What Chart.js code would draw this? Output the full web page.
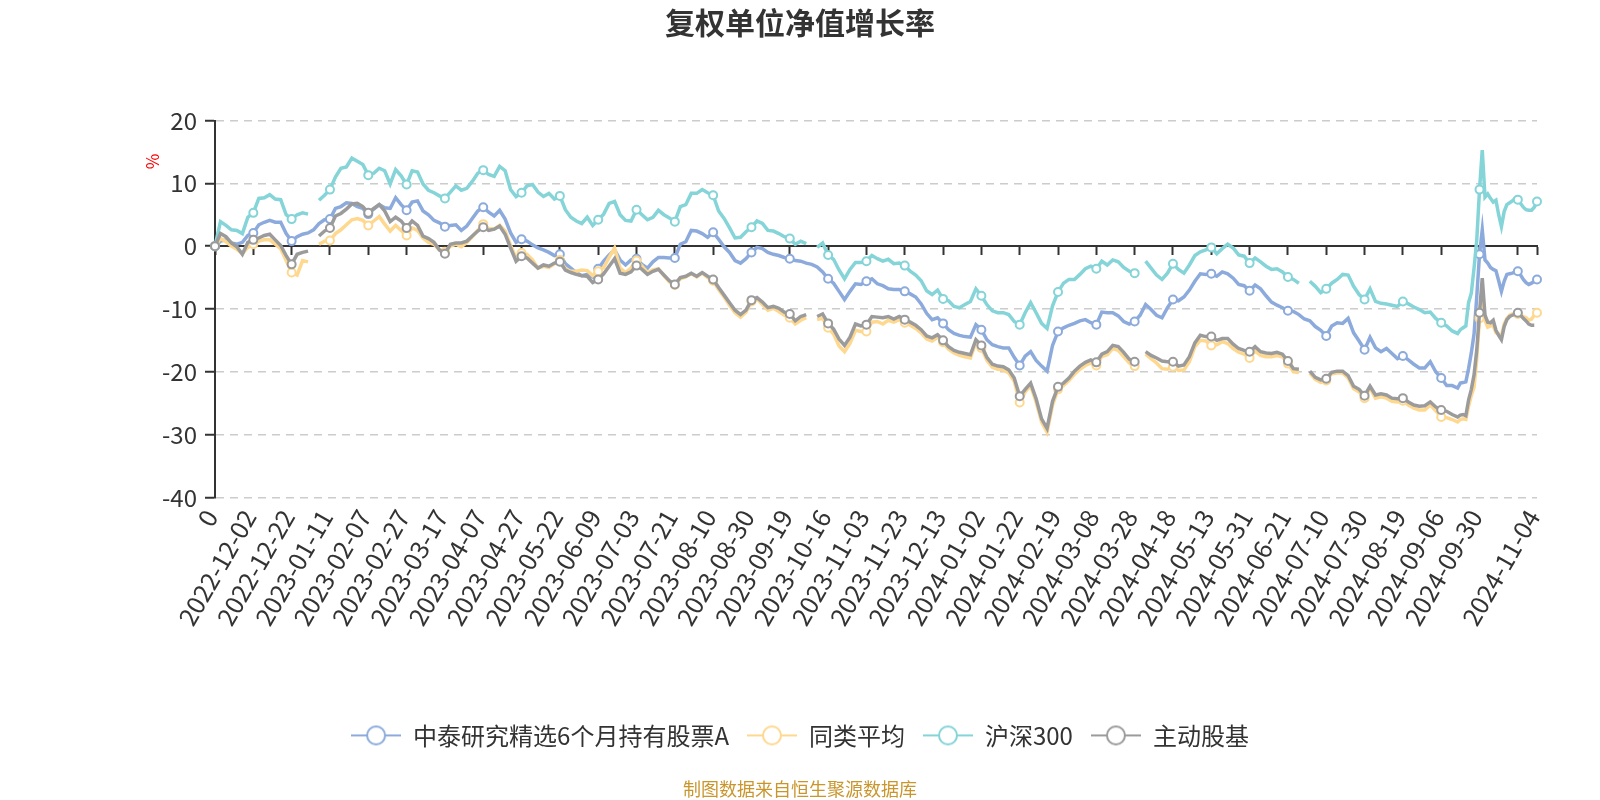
<!DOCTYPE html>
<html>
<head>
<meta charset="utf-8">
<script src="https://cdn.jsdelivr.net/npm/chart.js@4.4.1/dist/chart.umd.min.js"></script>
<style>
  html, body { margin: 0; padding: 0; background: #fff; }
</style>
</head>
<body>
<canvas id="chart" width="1600" height="800"></canvas>
<script>
const FONT = '"Noto Sans CJK SC", "Noto Sans", sans-serif';

const seriesNames = ['中泰研究精选6个月持有股票A', '同类平均', '沪深300', '主动股基'];
const seriesColors = ['#8cabdc', '#ffd88f', '#84d4d8', '#9b9b9b'];

// one label every 14 trading days, plus the last day
const tickLabels = ['0', '2022-12-02', '2022-12-22', '2023-01-11', '2023-02-07', '2023-02-27',
  '2023-03-17', '2023-04-07', '2023-04-27', '2023-05-22', '2023-06-09', '2023-07-03',
  '2023-07-21', '2023-08-10', '2023-08-30', '2023-09-19', '2023-10-16', '2023-11-03',
  '2023-11-23', '2023-12-13', '2024-01-02', '2024-01-22', '2024-02-19', '2024-03-08',
  '2024-03-28', '2024-04-18', '2024-05-13', '2024-05-31', '2024-06-21', '2024-07-10',
  '2024-07-30', '2024-08-19', '2024-09-06', '2024-09-30'];
const lastLabel = '2024-11-04';
const tickStep = 14;
const lastDay = 483;

// sampled trading days: every 2nd day up to 454, then every day to the end
const days = [];
for (let d = 0; d <= 454; d += 2) days.push(d);
for (let d = 455; d <= lastDay; d++) days.push(d);

// 复权单位净值增长率 (%)
const fundValues = [
  0, 0.8, 1.0, 0.5, 0.3, 0.6, 1.7, 2.1, 3.4, 3.8,
  4.1, 3.8, 3.8, 2.0, 0.8, 1.5, 1.9, 2.1, 2.6, 3.6,
  4.2, 4.3, 6.0, 6.3, 6.9, 6.8, 6.3, 6.0, 5.1, 5.9,
  6.6, 6.1, 6.0, 7.7, 6.6, 5.7, 7.0, 7.2, 5.6, 5.0,
  4.1, 3.7, 3.1, 3.3, 3.4, 2.5, 3.2, 4.4, 5.6, 6.2,
  5.4, 4.8, 5.7, 4.3, 2.1, 0.6, 1.1, 0.8, 0.2, -0.3,
  -0.6, -1.0, -1.5, -1.3, -2.8, -3.5, -4.2, -4.7, -4.5, -4.9,
  -3.6, -2.4, -1.4, -0.6, -2.2, -3.0, -2.2, -2.0, -2.9, -3.5,
  -2.5, -1.8, -1.8, -1.9, -1.9, 0.3, 0.7, 2.5, 2.4, 2.0,
  1.4, 2.2, 1.1, -0.1, -1.0, -2.3, -2.7, -2.0, -1.0, -0.2,
  -0.4, -1.0, -1.3, -1.5, -1.8, -2.0, -2.3, -2.4, -2.7, -2.9,
  -3.3, -4.1, -5.2, -5.9, -7.2, -8.5, -7.2, -6.0, -6.1, -5.6,
  -5.2, -6.0, -6.3, -6.8, -6.9, -6.9, -7.2, -7.6, -8.1, -9.2,
  -10.7, -11.7, -11.4, -12.3, -13.3, -13.9, -14.2, -14.4, -14.5, -12.5,
  -13.3, -14.9, -15.7, -16.0, -16.2, -16.2, -17.7, -19.0, -17.5, -16.8,
  -18.2, -19.1, -19.9, -15.8, -13.6, -13.0, -12.6, -12.3, -11.9, -11.7,
  -12.2, -12.5, -10.5, -10.6, -10.6, -11.1, -12.0, -12.4, -12.0, -11.0,
  -9.3, -10.1, -11.0, -11.4, -9.8, -8.5, -8.7, -8.1, -7.0, -5.6,
  -4.4, -4.5, -4.4, -4.8, -4.1, -4.4, -5.1, -6.1, -6.3, -7.1,
  -6.2, -6.8, -7.9, -8.9, -9.4, -9.8, -10.3, -10.4, -10.9, -11.6,
  -11.9, -12.8, -13.4, -14.3, -12.7, -12.2, -12.3, -11.5, -13.8, -15.1,
  -16.5, -14.5, -16.2, -16.8, -16.3, -17.1, -17.9, -17.5, -18.1, -18.8,
  -19.4, -19.4, -18.4, -20.0, -21.0, -22.2, -22.2, -22.6,
  -21.8, -21.7, -21.6, -19.5, -17.0, -14.0, -8.0, -1.3, 2.6, -2.2,
  -2.7, -3.4, -3.7, -3.9, -5.5, -7.2, -5.6, -4.5, -4.4, -4.3,
  -4.1, -4.0, -4.6, -5.3, -5.8, -6.1, -5.9, -5.6, -5.3
];

const peerValues = [
  0, 1.2, 0.7, 0.0, -0.5, -1.2, -0.2, 0.3, 0.8, 1.0,
  1.0, 0.3, -0.4, -2.3, -4.2, -4.6, -2.3, -2.5, null, 0.3,
  0.8, 0.9, 2.0, 2.6, 3.4, 4.2, 4.4, 4.1, 3.3, 4.0,
  4.7, 3.5, 2.4, 3.3, 2.5, 1.7, 2.9, 2.5, 1.3, 0.6,
  0.3, -0.6, -0.9, 0.0, 0.3, -0.1, 0.6, 1.5, 2.5, 3.5,
  2.8, 2.7, 3.3, 2.4, 0.1, -1.9, -1.1, -1.3, -2.2, -3.5,
  -3.2, -3.4, -2.8, -2.2, -3.6, -4.0, -4.0, -3.8, -3.9, -4.7,
  -4.0, -3.4, -1.8, -0.3, -3.5, -4.2, -3.5, -2.3, -3.2, -4.2,
  -3.8, -3.6, -4.7, -5.7, -6.2, -5.2, -4.9, -4.4, -4.9, -4.3,
  -5.0, -5.5, -6.9, -8.1, -9.4, -10.6, -11.3, -10.5, -8.8, -8.4,
  -9.3, -10.2, -9.9, -10.4, -11.0, -11.4, -12.4, -11.8, -11.4, null,
  -11.7, -11.5, -13.0, -14.0, -15.9, -16.8, -15.5, -13.4, -13.6, -13.6,
  -12.1, -12.0, -12.4, -11.8, -12.1, -11.7, -12.2, -12.6, -13.1, -13.8,
  -14.8, -15.1, -14.5, -15.3, -16.4, -17.0, -17.4, -17.6, -17.8, -15.3,
  -16.2, -18.2, -19.3, -19.6, -19.7, -20.2, -21.5, -24.9, -23.2, -22.2,
  -24.8, -28.0, -29.6, -25.3, -22.8, -22.2, -21.4, -20.4, -19.6, -19.0,
  -18.6, -19.0, -17.6, -17.3, -16.3, -16.6, -17.6, -18.6, -19.1, null,
  -17.2, -17.9, -18.6, -19.5, -19.6, -19.2, -19.8, -19.7, -18.4, -16.0,
  -15.0, -15.1, -15.8, -15.7, -15.2, -15.5, -16.3, -16.9, -17.2, -17.8,
  -16.7, -17.4, -17.6, -17.6, -17.4, -17.6, -18.7, -20.0, -20.1, null,
  -20.2, -21.2, -21.7, -21.4, -20.3, -20.2, -20.2, -21.0, -22.7, -23.2,
  -24.2, -22.6, -24.2, -24.0, -24.2, -24.7, -24.8, -24.6, -25.3, -25.8,
  -26.1, -26.1, -25.3, -26.2, -27.2, -27.3, -27.6, -28.0,
  -27.6, -27.5, -27.6, -25.5, -23.8, -22.5, -18.0, -11.5, -7.0, -11.8,
  -12.9, -12.7, -12.6, -13.8, -14.0, -14.3, -12.4, -11.5, -11.0, -10.8,
  -10.8, -10.8, -11.0, -11.2, -11.4, -11.8, -11.6, -11.0, -10.6
];

const hs300Values = [
  0, 3.9, 3.3, 2.6, 2.5, 2.0, 4.6, 5.3, 7.6, 7.7,
  8.2, 7.5, 7.4, 5.0, 4.3, 5.0, 5.3, 5.1, null, 7.3,
  8.1, 9.0, 11.0, 12.4, 12.6, 14.0, 13.5, 13.0, 11.3, 11.6,
  12.4, 12.0, 9.9, 12.2, 11.2, 9.8, 12.0, 11.8, 9.9, 8.9,
  8.5, 8.0, 7.6, 8.6, 9.6, 8.9, 9.2, 10.3, 11.6, 12.1,
  11.4, 11.1, 12.7, 12.0, 9.0, 7.9, 8.5, 9.6, 9.8, 8.6,
  7.9, 8.4, 7.5, 8.0, 5.8, 4.6, 4.0, 3.6, 4.6, 3.3,
  4.2, 5.1, 6.8, 7.1, 5.0, 4.1, 4.0, 5.8, 5.0, 4.2,
  4.6, 5.7, 5.0, 4.5, 3.9, 6.3, 6.6, 8.4, 8.4, 9.0,
  8.5, 8.1, 5.6, 4.4, 2.9, 1.3, 1.4, 2.3, 3.0, 4.0,
  3.6, 2.5, 2.4, 2.0, 1.5, 1.2, 0.3, 0.8, 0.4, null,
  -0.2, 0.5, -1.4, -2.1, -3.8, -5.2, -3.7, -2.6, -2.6, -2.4,
  -1.5, -2.0, -2.4, -2.1, -2.8, -2.7, -3.1, -4.0, -4.6, -5.5,
  -7.1, -7.7, -7.0, -8.4, -8.7, -9.6, -9.8, -9.3, -8.8, -6.8,
  -7.9, -9.3, -10.3, -10.6, -10.6, -10.9, -12.0, -12.5, -10.6, -9.0,
  -10.6, -12.3, -13.1, -9.5, -7.3, -5.9, -5.3, -5.3, -4.5, -3.6,
  -3.2, -3.6, -2.4, -3.0, -2.2, -2.5, -3.4, -4.0, -4.3, null,
  -2.4, -3.5, -4.6, -5.3, -4.3, -2.8, -3.7, -4.3, -3.0, -1.5,
  -0.9, -0.6, -0.2, -1.2, -0.4, 0.3, -0.3, -1.4, -1.6, -2.7,
  -1.9, -2.5, -3.2, -3.7, -3.6, -4.1, -4.9, -5.3, -5.9, null,
  -5.6, -6.4, -7.4, -6.8, -5.9, -5.3, -4.5, -4.6, -6.4, -7.7,
  -8.5, -6.8, -8.8, -9.1, -9.2, -9.4, -9.6, -8.8, -9.2, -9.7,
  -10.1, -10.6, -10.5, -11.5, -12.2, -12.7, -13.5, -13.9,
  -13.3, -13.0, -12.7, -9.0, -7.5, -3.5, 1.0, 9.0, 15.3, 7.8,
  8.3, 7.6, 7.0, 7.3, 5.0, 3.1, 5.5, 6.6, 6.9, 7.2,
  7.6, 7.4, 6.8, 6.2, 5.8, 5.7, 5.7, 6.2, 7.1
];

const activeValues = [
  0, 2.0, 1.5, 0.5, -0.1, -1.3, 0.6, 1.0, 1.3, 1.7,
  1.9, 1.0, 0.1, -1.5, -2.9, -1.3, -1.0, -0.8, null, 1.6,
  2.4, 2.9, 4.8, 5.2, 5.9, 6.7, 6.8, 6.3, 5.3, 6.0,
  6.6, 5.6, 3.9, 4.6, 4.0, 2.9, 4.0, 3.3, 1.6, 1.2,
  0.6, -0.6, -1.2, 0.3, 0.5, 0.5, 0.8, 1.6, 2.4, 3.0,
  2.5, 2.7, 3.2, 1.9, -0.3, -2.4, -1.6, -1.9, -2.7, -3.5,
  -3.0, -3.2, -2.7, -2.5, -3.8, -4.2, -4.5, -4.7, -4.8, -5.8,
  -5.3, -4.4, -3.2, -2.0, -4.3, -4.5, -4.1, -3.1, -3.7, -4.5,
  -4.0, -3.7, -4.6, -5.5, -6.1, -5.0, -4.8, -4.3, -4.8, -4.2,
  -4.8, -5.3, -6.6, -7.8, -9.0, -10.2, -10.9, -10.2, -8.6, -8.2,
  -8.9, -9.8, -9.6, -9.9, -10.5, -10.8, -11.9, -11.2, -10.9, null,
  -11.2, -10.8, -12.3, -13.2, -14.8, -15.8, -14.5, -12.4, -12.7, -12.5,
  -11.2, -11.3, -11.4, -11.2, -11.6, -11.2, -11.7, -12.1, -12.6, -13.3,
  -14.3, -14.6, -14.1, -15.0, -16.0, -16.6, -16.9, -17.1, -17.3, -14.9,
  -15.8, -17.7, -18.8, -19.1, -19.2, -19.7, -21.0, -23.9, -22.8, -21.8,
  -24.3, -27.5, -29.0, -24.7, -22.4, -21.8, -21.0, -19.9, -19.1, -18.5,
  -18.1, -18.5, -17.2, -16.8, -15.8, -16.0, -16.9, -18.0, -18.4, null,
  -16.8, -17.4, -17.8, -18.3, -18.4, -18.4, -19.1, -18.9, -17.6, -15.4,
  -14.2, -14.4, -14.4, -15.0, -14.7, -14.7, -15.6, -16.3, -16.6, -16.8,
  -16.0, -16.8, -17.0, -17.1, -16.9, -17.2, -18.3, -19.5, -19.6, null,
  -19.9, -20.9, -21.3, -21.1, -20.1, -19.9, -19.9, -20.6, -22.3, -22.8,
  -23.8, -22.3, -23.7, -23.5, -23.7, -24.2, -24.3, -24.2, -24.8, -25.3,
  -25.5, -25.4, -24.8, -25.6, -26.1, -26.3, -26.8, -27.2,
  -26.9, -26.8, -27.0, -24.5, -22.8, -20.5, -16.5, -10.6, -5.1, -11.0,
  -12.1, -12.2, -11.8, -13.4, -14.2, -14.9, -12.8, -11.7, -11.2, -11.0,
  -10.8, -10.6, -11.0, -11.5, -11.9, -12.4, -12.6, -12.6, null
];

const seriesValues = [fundValues, peerValues, hs300Values, activeValues];
seriesValues.forEach((vals, i) => {
  if (vals.length !== days.length) console.error(seriesNames[i], vals.length, days.length);
});

// tick days shared by the label axis and the zero line
const tickDays = tickLabels.map((_, k) => k * tickStep);
tickDays.push(tickDays[tickDays.length - 1] + tickStep, lastDay);

function labelForDay(d) {
  if (d === lastDay) return lastLabel;
  const k = d / tickStep;
  return Number.isInteger(k) && k < tickLabels.length ? tickLabels[k] : '';
}

function isMarkerDay(d) {
  return d === lastDay || d % tickStep === 0;
}

function setTicks(scale) {
  scale.ticks = tickDays.map(v => ({ value: v }));
}

// legend icon: short line with a hollow circle
function legendIcon(color) {
  const c = document.createElement('canvas');
  c.width = 50;
  c.height = 24;
  const g = c.getContext('2d');
  g.strokeStyle = color;
  g.lineWidth = 2;
  g.beginPath();
  g.moveTo(0, 12);
  g.lineTo(50, 12);
  g.stroke();
  g.beginPath();
  g.arc(25, 12, 9, 0, Math.PI * 2);
  g.fillStyle = '#fff';
  g.fill();
  g.stroke();
  return c;
}
const legendIcons = seriesColors.map(legendIcon);

// ECharts draws later series on top; lower order is drawn last in Chart.js
const drawOrder = [4, 3, 2, 1];

const unitLabel = {
  id: 'unitLabel',
  afterDraw(chart) {
    const { ctx, chartArea, scales } = chart;
    ctx.save();
    ctx.translate(chartArea.left - 62, scales.y.getPixelForValue(13.5));
    ctx.rotate(-Math.PI / 2);
    ctx.fillStyle = '#ff0000';
    ctx.font = '17px ' + FONT;
    ctx.textAlign = 'center';
    ctx.textBaseline = 'middle';
    ctx.fillText('%', 0, 0);
    ctx.restore();
  }
};

new Chart(document.getElementById('chart'), {
  type: 'line',
  data: {
    datasets: seriesNames.map((name, i) => ({
      label: name,
      data: days.map((d, k) => ({ x: d, y: seriesValues[i][k] })),
      borderColor: seriesColors[i],
      backgroundColor: seriesColors[i],
      borderWidth: 3.5,
      pointRadius: ctx => (ctx.raw && isMarkerDay(ctx.raw.x)) ? 4 : 0,
      pointBackgroundColor: '#fff',
      pointBorderColor: seriesColors[i],
      pointBorderWidth: 2,
      tension: 0,
      spanGaps: false,
      clip: false,
      order: drawOrder[i]
    }))
  },
  options: {
    responsive: false,
    animation: false,
    devicePixelRatio: 1,
    events: [],
    layout: { padding: 0 },
    plugins: {
      title: {
        display: true,
        text: '复权单位净值增长率',
        color: '#333',
        font: { family: FONT, size: 30, weight: 'bold' },
        padding: { top: 4.5, bottom: 80 }
      },
      subtitle: {
        display: true,
        position: 'bottom',
        text: '制图数据来自恒生聚源数据库',
        color: '#c9962e',
        font: { family: FONT, size: 18 },
        padding: { top: 21, bottom: 0 }
      },
      legend: {
        position: 'bottom',
        labels: {
          font: { family: FONT, size: 24 },
          color: '#333',
          usePointStyle: true,
          pointStyleWidth: 50,
          boxHeight: 24,
          padding: 18,
          generateLabels: chart => chart.data.datasets.map((ds, i) => ({
            text: ds.label,
            fillStyle: '#fff',
            strokeStyle: ds.borderColor,
            lineWidth: 0,
            pointStyle: legendIcons[i],
            fontColor: '#333',
            hidden: false,
            datasetIndex: i
          }))
        }
      },
      tooltip: { enabled: false }
    },
    scales: {
      x: {
        type: 'linear',
        position: 'bottom',
        min: 0,
        max: lastDay,
        afterBuildTicks: setTicks,
        afterFit: scale => { scale.height = 208; },
        grid: { display: false, drawTicks: false },
        border: { display: false },
        ticks: {
          autoSkip: false,
          minRotation: 60,
          maxRotation: 60,
          padding: 7,
          labelOffset: -4,
          color: '#333',
          font: { family: FONT, size: 25 },
          callback: v => labelForDay(v)
        }
      },
      zeroLine: {
        type: 'linear',
        axis: 'x',
        position: { y: 0 },
        min: 0,
        max: lastDay,
        afterBuildTicks: setTicks,
        ticks: { display: false },
        grid: {
          drawOnChartArea: false,
          drawTicks: true,
          tickLength: 8,
          tickColor: '#333',
          tickWidth: 2
        },
        border: { display: true, color: '#333', width: 2 }
      },
      y: {
        type: 'linear',
        position: 'left',
        min: -40,
        max: 20,
        afterFit: scale => { scale.width = 215; },
        ticks: {
          stepSize: 10,
          padding: 8,
          color: '#333',
          font: { family: FONT, size: 24 },
          callback: v => String(v)
        },
        grid: {
          color: ctx => (ctx.tick && ctx.tick.value === 0) ? 'rgba(0,0,0,0)' : '#cccccc',
          lineWidth: 1.5,
          drawTicks: true,
          tickLength: 10,
          tickColor: '#333',
          tickWidth: 2,
          tickBorderDash: []
        },
        border: { display: true, color: '#333', width: 2, dash: [8, 6] }
      },
      // empty right-hand box that keeps the plot 63px from the right edge
      rightSpace: {
        type: 'linear',
        axis: 'y',
        position: 'right',
        afterFit: scale => { scale.width = 63; },
        ticks: { display: false },
        grid: { display: false, drawTicks: false },
        border: { display: false }
      }
    }
  },
  plugins: [unitLabel]
});
</script>
</body>
</html>
